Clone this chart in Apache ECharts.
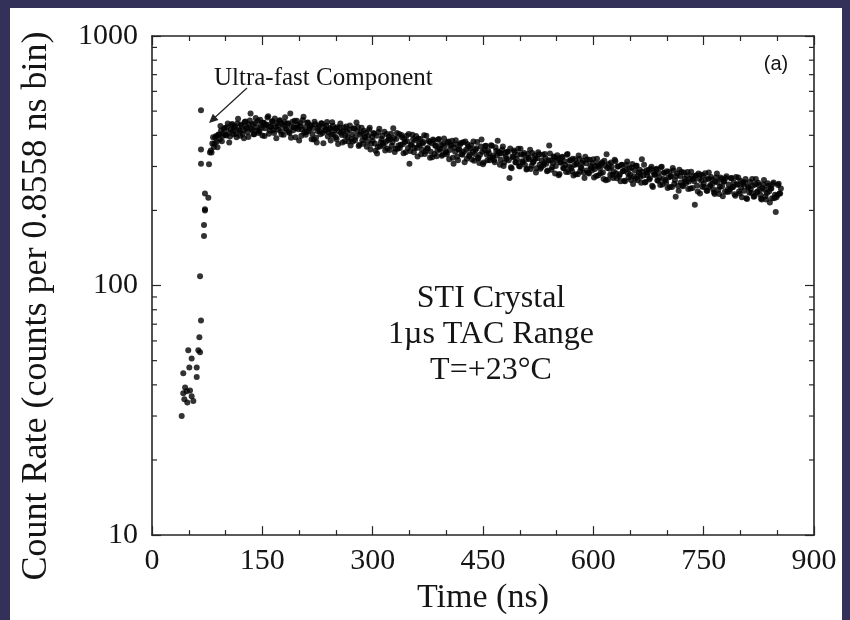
<!DOCTYPE html>
<html><head><meta charset="utf-8">
<script src="https://cdn.jsdelivr.net/npm/echarts@6/dist/echarts.min.js"></script>
<style>
html,body{margin:0;padding:0;background:#33305a;width:850px;height:620px;overflow:hidden}
#chart{position:absolute;left:10px;top:8px;width:832px;height:612px;background:#fff}
</style></head><body><div id="chart"></div>
<script>
// ---- data ----
const xTickLabels = ['0','150','300','450','600','750','900'];
const yTickLabels = ['10','100','1000'];
const logMinorTicks = [20,30,40,50,60,70,80,90,200,300,400,500,600,700,800,900];

// leading edge (rise + ultra-fast component)
const riseTimeNs = [40.4,42.5,42.5,44,45,47.2,48,49.3,50.7,51.7,53.9,53.9,56.2,60.8,60.8,63,64.4,65.3,66.6,65.3,66.6,66.6,66.6,70.7,70.7,72,72,72,76.6,77.5,78.8];
const riseCounts = [30,44.5,37,35,39,37.7,34,55,47,38,51,36,34.5,47,43,55,62,54,72.5,109,308,351,504,158,175,200,202,234,225,306,341];

// main decay band, even-numbered bins (every 2 ns)
const timeNsA = [
80,82,84,86,88,90,92,94,96,98,
100,102,104,106,108,110,112,114,116,118,
120,122,124,126,128,130,132,134,136,138,
140,142,144,146,148,150,152,154,156,158,
160,162,164,166,168,170,172,174,176,178,
180,182,184,186,188,190,192,194,196,198,
200,202,204,206,208,210,212,214,216,218,
220,222,224,226,228,230,232,234,236,238,
240,242,244,246,248,250,252,254,256,258,
260,262,264,266,268,270,272,274,276,278,
280,282,284,286,288,290,292,294,296,298,
300,302,304,306,308,310,312,314,316,318,
320,322,324,326,328,330,332,334,336,338,
340,342,344,346,348,350,352,354,356,358,
360,362,364,366,368,370,372,374,376,378,
380,382,384,386,388,390,392,394,396,398,
400,402,404,406,408,410,412,414,416,418,
420,422,424,426,428,430,432,434,436,438,
440,442,444,446,448,450,452,454,456,458,
460,462,464,466,468,470,472,474,476,478,
480,482,484,486,488,490,492,494,496,498,
500,502,504,506,508,510,512,514,516,518,
520,522,524,526,528,530,532,534,536,538,
540,542,544,546,548,550,552,554,556,558,
560,562,564,566,568,570,572,574,576,578,
580,582,584,586,588,590,592,594,596,598,
600,602,604,606,608,610,612,614,616,618,
620,622,624,626,628,630,632,634,636,638,
640,642,644,646,648,650,652,654,656,658,
660,662,664,666,668,670,672,674,676,678,
680,682,684,686,688,690,692,694,696,698,
700,702,704,706,708,710,712,714,716,718,
720,722,724,726,728,730,732,734,736,738,
740,742,744,746,748,750,752,754,756,758,
760,762,764,766,768,770,772,774,776,778,
780,782,784,786,788,790,792,794,796,798,
800,802,804,806,808,810,812,814,816,818,
820,822,824,826,828,830,832,834,836,838,
840,842,844,846,848,850,852,854
];
const countsA = [
348,371,359,392,377,401,385,418,397,425,
402,431,409,396,440,417,428,405,446,421,
398,437,419,452,426,411,443,489,421,404,
447,430,458,415,438,399,449,427,441,477,
418,436,455,409,432,446,421,460,403,437,
451,426,444,412,489,433,419,457,428,440,
381,447,422,475,431,412,450,426,439,405,
385,443,374,428,416,447,409,432,419,452,
411,428,402,437,419,393,431,414,446,401,
416,379,434,394,421,364,403,426,382,450,
432,367,410,382,417,392,360,398,429,370,
380,406,347,338,412,361,387,372,413,377,
354,395,387,363,427,343,387,353,405,367,
393,339,376,398,356,308,365,402,342,382,
356,388,365,336,371,400,345,355,380,325,
372,385,337,363,347,387,353,331,370,362,
341,375,321,364,380,308,344,368,318,352,
373,334,344,378,322,360,335,365,344,316,
350,376,325,334,385,306,349,363,318,340,
327,363,332,312,347,380,339,319,351,301,
340,322,344,270,298,329,348,312,321,353,
300,335,312,340,321,294,325,350,302,311,
332,284,324,336,294,316,303,337,308,289,
364,317,298,329,281,318,324,280,311,328,
295,304,334,285,317,296,322,304,279,309,
332,287,295,316,270,309,320,281,301,289,
321,293,275,307,301,282,312,267,302,336,
266,294,311,278,286,315,269,300,279,304,
287,263,292,314,271,278,297,255,290,302,
264,284,272,321,276,259,289,284,266,294,
251,284,278,294,263,271,298,254,283,264,
287,271,248,275,296,256,227,281,240,275,
285,250,268,257,285,261,245,274,267,211,
277,238,268,278,249,256,282,240,268,249,
272,256,236,261,281,242,249,267,228,261,
270,237,254,243,270,248,232,272,254,238,
263,226,254,259,224,248,236,243,267,227,
254,236,258,242,223,246,265,228,235,251,
215,245,255,224,197,230,256,234
];

// main decay band, odd-numbered bins (every 2 ns, offset by 1 ns)
const timeNsB = [
81,83,85,87,89,91,93,95,97,99,
101,103,105,107,109,111,113,115,117,119,
121,123,125,127,129,131,133,135,137,139,
141,143,145,147,149,151,153,155,157,159,
161,163,165,167,169,171,173,175,177,179,
181,183,185,187,189,191,193,195,197,199,
201,203,205,207,209,211,213,215,217,219,
221,223,225,227,229,231,233,235,237,239,
241,243,245,247,249,251,253,255,257,259,
261,263,265,267,269,271,273,275,277,279,
281,283,285,287,289,291,293,295,297,299,
301,303,305,307,309,311,313,315,317,319,
321,323,325,327,329,331,333,335,337,339,
341,343,345,347,349,351,353,355,357,359,
361,363,365,367,369,371,373,375,377,379,
381,383,385,387,389,391,393,395,397,399,
401,403,405,407,409,411,413,415,417,419,
421,423,425,427,429,431,433,435,437,439,
441,443,445,447,449,451,453,455,457,459,
461,463,465,467,469,471,473,475,477,479,
481,483,485,487,489,491,493,495,497,499,
501,503,505,507,509,511,513,515,517,519,
521,523,525,527,529,531,533,535,537,539,
541,543,545,547,549,551,553,555,557,559,
561,563,565,567,569,571,573,575,577,579,
581,583,585,587,589,591,593,595,597,599,
601,603,605,607,609,611,613,615,617,619,
621,623,625,627,629,631,633,635,637,639,
641,643,645,647,649,651,653,655,657,659,
661,663,665,667,669,671,673,675,677,679,
681,683,685,687,689,691,693,695,697,699,
701,703,705,707,709,711,713,715,717,719,
721,723,725,727,729,731,733,735,737,739,
741,743,745,747,749,751,753,755,757,759,
761,763,765,767,769,771,773,775,777,779,
781,783,785,787,789,791,793,795,797,799,
801,803,805,807,809,811,813,815,817,819,
821,823,825,827,829,831,833,835,837,839,
841,843,845,847,849,851,853,855
];
const countsB = [
341,393,371,397,358,404,436,379,406,428,
399,446,374,421,444,404,435,393,466,417,
442,405,389,454,432,394,459,425,443,404,
469,418,409,462,428,449,397,441,471,406,
432,454,419,467,389,436,458,415,445,402,
473,421,447,409,391,453,431,393,457,423,
436,398,461,410,402,449,416,437,386,428,
453,391,416,437,404,446,372,417,438,396,
422,381,451,402,426,386,369,430,410,374,
430,398,414,378,438,386,378,426,394,414,
362,402,429,370,394,410,378,421,351,394,
409,371,398,359,425,374,397,363,348,405,
383,349,406,375,390,353,409,364,356,401,
368,387,342,379,405,346,368,386,357,397,
329,369,387,350,376,337,398,355,376,344,
327,381,363,330,384,352,367,335,388,345,
335,378,349,367,325,357,382,329,350,368,
337,375,312,350,368,330,354,320,378,337,
355,324,310,361,344,311,362,335,348,318,
365,325,318,358,332,344,305,338,361,311,
328,344,318,354,295,327,343,311,334,301,
353,315,334,305,292,337,321,293,340,315,
323,295,342,305,298,334,309,324,287,318,
338,291,310,326,301,333,277,311,326,296,
315,285,337,300,318,288,276,321,306,279,
322,298,310,283,328,289,283,319,295,310,
271,301,322,277,295,308,284,316,264,296,
307,278,299,270,319,282,300,274,262,305,
288,262,305,282,294,265,307,274,268,302,
277,291,258,286,305,260,277,291,269,299,
248,278,292,264,283,253,299,267,283,258,
246,286,273,248,289,264,275,251,291,259,
252,284,262,276,244,267,286,246,262,275,
252,281,234,263,276,248,266,240,284,253,
266,243,233,271,259,233,271,250,261,238,
274,243,238,269,248,259,229,254,271,234,
247,259,240,267,222,247,260,235,252,228,
267,238,253,231,221,254,242,221,257,238,
245,224,259,231,226,253,234,245
];

// ---- chart ----
const SERIF = '"Liberation Serif","Times New Roman",serif';
const SANS = '"Liberation Sans",Arial,sans-serif';
const INK = '#151515';
const AX = '#262626';

const pts = [];
riseTimeNs.forEach((t,i)=>pts.push([t, riseCounts[i]]));
timeNsA.forEach((t,i)=>pts.push([t, countsA[i]]));
timeNsB.forEach((t,i)=>pts.push([t, countsB[i]]));

const chart = echarts.init(document.getElementById('chart'), null, {renderer:'canvas'});
const axLine = {onZero:false, lineStyle:{color:AX, width:1.6}};
const option = {
  animation:false,
  backgroundColor:'#ffffff',
  grid:{left:142, right:28, top:28, bottom:75},
  xAxis:[{
    type:'value', min:0, max:900, interval:150, position:'bottom',
    axisLine:axLine,
    axisTick:{inside:true, length:9, lineStyle:{color:AX, width:1.2}},
    minorTick:{show:true, splitNumber:3, length:5, lineStyle:{color:AX, width:1.2}},
    splitLine:{show:false},
    axisLabel:{fontFamily:SERIF, fontSize:30, color:INK, margin:11,
      formatter:(v)=>xTickLabels[Math.round(v/150)]},
    name:'Time (ns)', nameLocation:'middle', nameGap:45,
    nameTextStyle:{fontFamily:SERIF, fontSize:34, color:INK}
  },{
    type:'value', min:0, max:900, interval:150, position:'top',
    axisLine:axLine,
    axisTick:{inside:true, length:9, lineStyle:{color:AX, width:1.2}},
    minorTick:{show:true, splitNumber:3, length:5, lineStyle:{color:AX, width:1.2}},
    splitLine:{show:false}, axisLabel:{show:false}
  }],
  yAxis:[{
    type:'log', logBase:10, min:10, max:1000, position:'left',
    axisLine:axLine,
    axisTick:{inside:true, length:9, lineStyle:{color:AX, width:1.2}},
    splitLine:{show:false},
    axisLabel:{fontFamily:SERIF, fontSize:30, color:INK, margin:14,
      formatter:(v)=>yTickLabels[Math.round(Math.log10(v))-1]}
  },{
    type:'log', logBase:10, min:10, max:1000, position:'right',
    axisLine:axLine,
    axisTick:{inside:true, length:9, lineStyle:{color:AX, width:1.2}},
    splitLine:{show:false}, axisLabel:{show:false}
  }],
  series:[{
    type:'scatter', xAxisIndex:0, yAxisIndex:0,
    data:pts, symbol:'circle', symbolSize:6,
    itemStyle:{color:'#000'}, silent:true
  },{
    type:'custom', xAxisIndex:0, yAxisIndex:0, silent:true, clip:false,
    data: logMinorTicks.map(v=>[0,v]),
    renderItem:(params, api)=>{
      const v = api.value(1);
      const pL = api.coord([0, v]);
      const pR = api.coord([900, v]);
      return {type:'group', children:[
        {type:'line', shape:{x1:pL[0], y1:pL[1], x2:pL[0]+5, y2:pL[1]}, style:{stroke:AX, lineWidth:1.2}},
        {type:'line', shape:{x1:pR[0]-5, y1:pR[1], x2:pR[0], y2:pR[1]}, style:{stroke:AX, lineWidth:1.2}}
      ]};
    }
  }],
  graphic:[
    {type:'text', x:27, y:298, rotation:Math.PI/2, style:{text:'Count Rate (counts per 0.8558 ns bin)', font:'36px '+SERIF, fill:INK, align:'center', verticalAlign:'middle', textAlign:'center', textVerticalAlign:'middle'}},
    {type:'text', x:204, y:70, style:{text:'Ultra-fast Component', font:'25px '+SERIF, fill:INK, verticalAlign:'middle', textVerticalAlign:'middle'}},
    {type:'line', shape:{x1:237, y1:80, x2:201, y2:113}, style:{stroke:'#222', lineWidth:1.2}},
    {type:'polygon', shape:{points:[[199,115],[208.5,112],[202.8,105.8]]}, style:{fill:'#222'}},
    {type:'text', x:766, y:56, style:{text:'(a)', font:'20px '+SANS, fill:INK, align:'center', verticalAlign:'middle', textAlign:'center', textVerticalAlign:'middle'}},
    {type:'text', x:481, y:327, style:{text:'STI Crystal\n1\u00b5s TAC Range\nT=+23\u00b0C', font:'32px '+SERIF, lineHeight:36, fill:INK, align:'center', verticalAlign:'middle', textAlign:'center', textVerticalAlign:'middle'}}
  ]
};
chart.setOption(option);
</script></body></html>
